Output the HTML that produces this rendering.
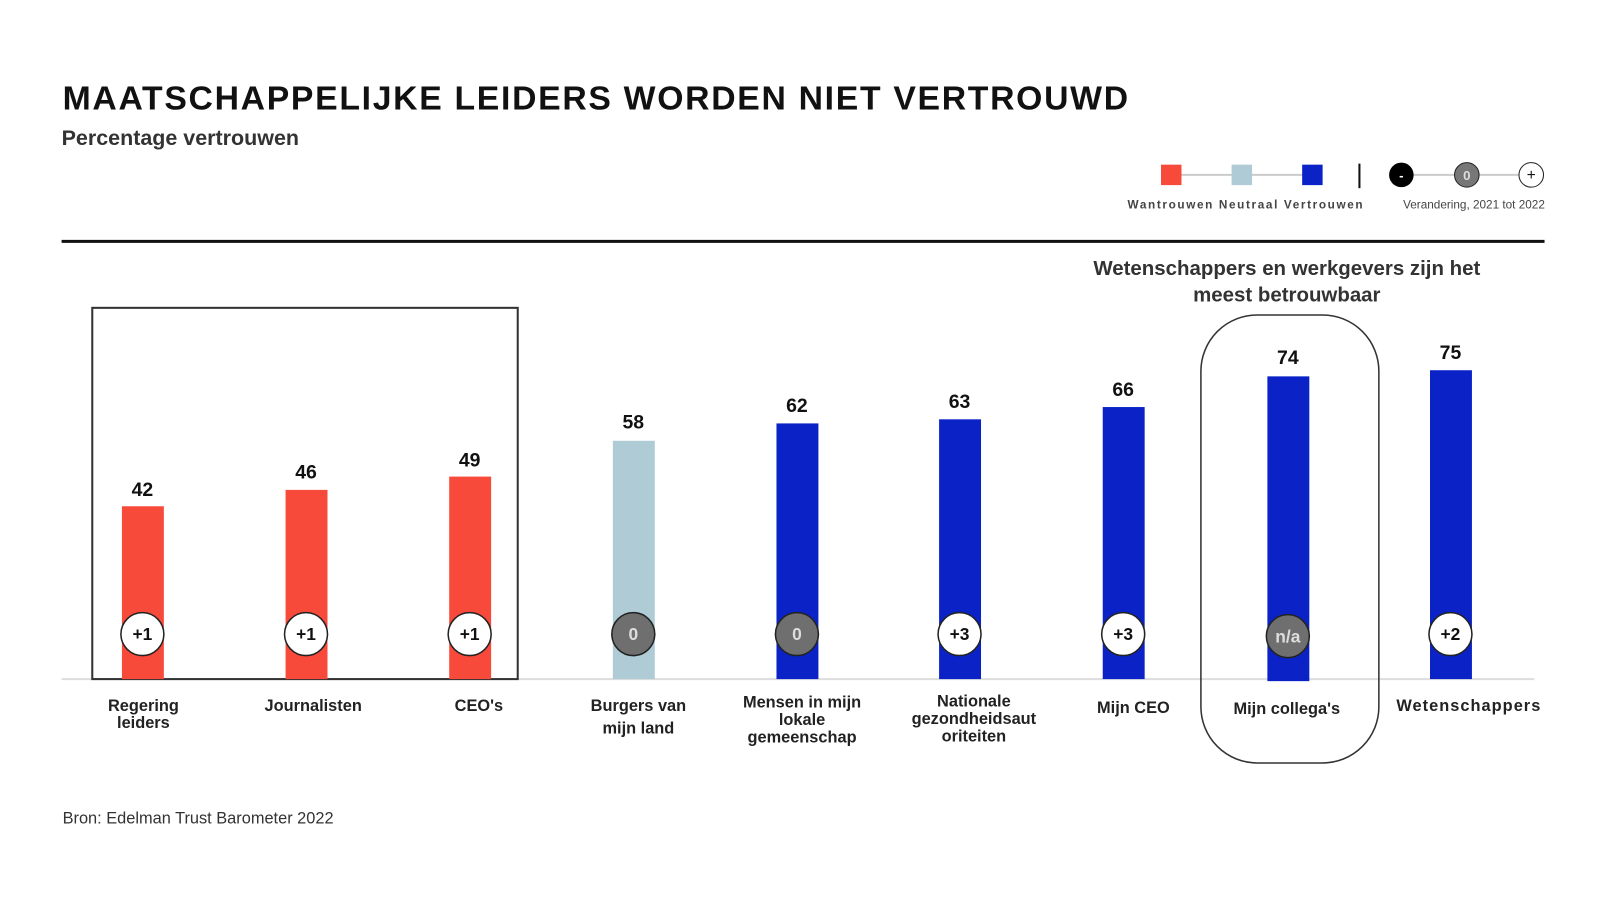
<!DOCTYPE html>
<html><head><meta charset="utf-8"><style>
html,body{margin:0;padding:0;background:#fff;}
svg{display:block;font-family:"Liberation Sans",sans-serif;}
</style></head><body>
<svg width="1600" height="900" viewBox="0 0 1564 880">
<text x="61" y="107" font-size="33" font-weight="bold" fill="#111" letter-spacing="2.2" textLength="1044">MAATSCHAPPELIJKE LEIDERS WORDEN NIET VERTROUWD</text>
<text x="60" y="142" font-size="21" font-weight="bold" fill="#333">Percentage vertrouwen</text>
<!-- legend -->
<line x1="1145" y1="171" x2="1283" y2="171" stroke="#ccc" stroke-width="2"/>
<rect x="1135" y="161" width="20" height="20" fill="#f84a3b"/>
<rect x="1204" y="161" width="20" height="20" fill="#aecbd6"/>
<rect x="1273" y="161" width="20" height="20" fill="#0a22c6"/>
<line x1="1329" y1="160" x2="1329" y2="184" stroke="#111" stroke-width="2"/>
<line x1="1370" y1="171" x2="1497" y2="171" stroke="#ccc" stroke-width="2"/>
<circle cx="1370" cy="171" r="12" fill="#000"/><text x="1370" y="176" font-size="13" fill="#fff" text-anchor="middle" font-weight="bold">-</text>
<circle cx="1434" cy="171" r="12" fill="#777" stroke="#222"/><text x="1434" y="176" font-size="13" fill="#ddd" text-anchor="middle" font-weight="bold">0</text>
<circle cx="1497" cy="171" r="12" fill="#fff" stroke="#222"/><text x="1497" y="176" font-size="15" fill="#111" text-anchor="middle">+</text>
<text x="1218" y="204" font-size="11.5" font-weight="bold" fill="#444" text-anchor="middle" letter-spacing="1.6">Wantrouwen Neutraal Vertrouwen</text>
<text x="1441" y="204" font-size="11.5" fill="#444" text-anchor="middle">Verandering, 2021 tot 2022</text>
<line x1="60" y1="236" x2="1510" y2="236" stroke="#111" stroke-width="3"/>
<text x="1258" y="269" font-size="20" font-weight="bold" fill="#333" text-anchor="middle">Wetenschappers en werkgevers zijn het</text>
<text x="1258" y="295" font-size="20" font-weight="bold" fill="#333" text-anchor="middle">meest betrouwbaar</text>
<!-- baseline -->
<line x1="60" y1="664" x2="1500" y2="664" stroke="#ddd" stroke-width="2"/>
<rect x="90" y="301" width="416" height="363" fill="none" stroke="#333" stroke-width="2"/>
<rect x="1174" y="308" width="174" height="438" rx="55" fill="none" stroke="#333" stroke-width="1.5"/>
<g font-weight="bold" font-size="19" fill="#111" text-anchor="middle">
<rect x="119" y="495" width="41" height="169" fill="#f84a3b"/><text x="139" y="485">42</text>
<rect x="279" y="479" width="41" height="185" fill="#f84a3b"/><text x="299" y="468">46</text>
<rect x="439" y="466" width="41" height="198" fill="#f84a3b"/><text x="459" y="456">49</text>
<rect x="599" y="431" width="41" height="233" fill="#aecbd6"/><text x="619" y="419">58</text>
<rect x="759" y="414" width="41" height="250" fill="#0a22c6"/><text x="779" y="403">62</text>
<rect x="918" y="410" width="41" height="254" fill="#0a22c6"/><text x="938" y="399">63</text>
<rect x="1078" y="398" width="41" height="266" fill="#0a22c6"/><text x="1098" y="387">66</text>
<rect x="1239" y="368" width="41" height="298" fill="#0a22c6"/><text x="1259" y="356">74</text>
<rect x="1398" y="362" width="41" height="302" fill="#0a22c6"/><text x="1418" y="351">75</text>
</g>
<g font-weight="bold" font-size="17" text-anchor="middle">
<circle cx="139" cy="620" r="21" fill="#fff" stroke="#222" stroke-width="1.5"/><text x="139" y="626" fill="#111">+1</text>
<circle cx="299" cy="620" r="21" fill="#fff" stroke="#222" stroke-width="1.5"/><text x="299" y="626" fill="#111">+1</text>
<circle cx="459" cy="620" r="21" fill="#fff" stroke="#222" stroke-width="1.5"/><text x="459" y="626" fill="#111">+1</text>
<circle cx="619" cy="620" r="21" fill="#6f6f6f" stroke="#222" stroke-width="1.5"/><text x="619" y="626" fill="#ddd">0</text>
<circle cx="779" cy="620" r="21" fill="#6f6f6f" stroke="#222" stroke-width="1.5"/><text x="779" y="626" fill="#ddd">0</text>
<circle cx="938" cy="620" r="21" fill="#fff" stroke="#222" stroke-width="1.5"/><text x="938" y="626" fill="#111">+3</text>
<circle cx="1098" cy="620" r="21" fill="#fff" stroke="#222" stroke-width="1.5"/><text x="1098" y="626" fill="#111">+3</text>
<circle cx="1259" cy="622" r="21" fill="#6f6f6f" stroke="#222" stroke-width="1.5"/><text x="1259" y="628" fill="#ddd">n/a</text>
<circle cx="1418" cy="620" r="21" fill="#fff" stroke="#222" stroke-width="1.5"/><text x="1418" y="626" fill="#111">+2</text>
</g>
<g font-weight="bold" font-size="16" fill="#222" text-anchor="middle">
<text x="140" y="695">Regering</text><text x="140" y="712">leiders</text>
<text x="306" y="695">Journalisten</text>
<text x="468" y="695">CEO's</text>
<text x="624" y="695">Burgers van</text><text x="624" y="717">mijn land</text>
<text x="784" y="692">Mensen in mijn</text><text x="784" y="709">lokale</text><text x="784" y="726">gemeenschap</text>
<text x="952" y="691">Nationale</text><text x="952" y="708">gezondheidsaut</text><text x="952" y="725">oriteiten</text>
<text x="1108" y="697">Mijn CEO</text>
<text x="1258" y="698">Mijn collega's</text>
<text x="1436" y="695" letter-spacing="1">Wetenschappers</text>
</g>
<text x="61" y="805" font-size="16" fill="#333">Bron: Edelman Trust Barometer 2022</text>
</svg>
</body></html>
